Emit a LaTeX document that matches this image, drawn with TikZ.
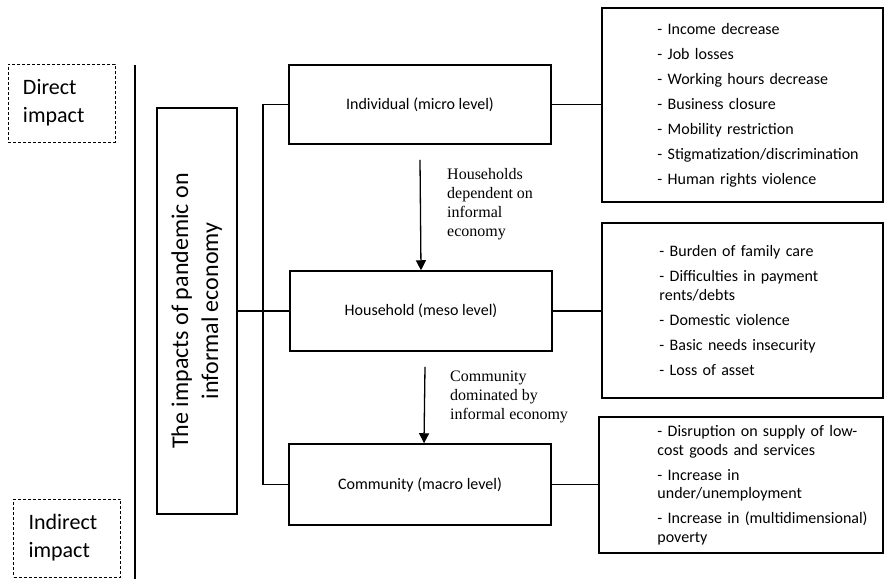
\documentclass[tikz,border=0pt]{standalone}
\usepackage{fontspec}
\setmainfont{Liberation Serif}
\setsansfont{Carlito}
\usetikzlibrary{arrows.meta,positioning}
\tikzstyle{level} = [rectangle, draw, line width=1.5pt, minimum width=262pt, minimum height=80pt, inner sep=0pt, font=\sffamily\fontsize{16}{19}\selectfont]
\tikzstyle{effects} = [rectangle, draw, line width=1.5pt, minimum width=281pt, inner sep=0pt]
\tikzstyle{items} = [anchor=west, text width=224pt, align=left, inner sep=0pt, font=\sffamily\fontsize{16}{18.5}\selectfont]
\tikzstyle{impact} = [rectangle, draw, dash pattern=on 3pt off 2pt, line width=1pt, minimum width=107pt, minimum height=78pt, text width=77pt, align=left, inner sep=0pt, font=\sffamily\fontsize{22}{28}\selectfont]
\tikzstyle{link} = [line width=1.5pt]
\tikzstyle{arrow} = [line width=1.3pt, -{Triangle[width=10pt,length=10pt]}]
\tikzstyle{note} = [anchor=west, align=left, inner sep=0pt, font=\fontsize{16}{19}\selectfont]

\begin{document}
\begin{tikzpicture}[x=1pt, y=-1pt]
\useasboundingbox (0,0) rectangle (884,579);

% Impact labels and divider
\node[impact] (direct) at (61.5,103) {Direct\\impact};
\node[impact] (indirect) at (67,538) {Indirect\\impact};
\coordinate (divtop) at (135,65);
\coordinate (divbot) at (135,579);
\draw[line width=2.4pt] (divtop) -- (divbot);

% Main topic
\node[rectangle, draw, line width=1.5pt, minimum width=80pt, minimum height=406pt, inner sep=0pt] (main) at (197,311) {\rotatebox{90}{\sffamily\fontsize{24}{30}\selectfont\begin{tabular}{@{}c@{}}The impacts of pandemic on\\informal economy\end{tabular}}};

% Levels
\node[level, minimum height=79pt] (ind) at (420,104.5) {Individual (micro level)};
\node[level] (house) at (421,311) {Household (meso level)};
\node[level, minimum height=81pt] (comm) at (420,484.5) {Community (macro level)};

% Effects
\node[effects, minimum height=194pt] (list1) at (742.5,105) {};
\node[effects, minimum height=175pt] (list2) at (742.5,310.5) {};
\node[effects, minimum width=284pt, minimum height=136pt] (list3) at (741,485) {};
\node[items] at ([xshift=56pt]list1.west) {- Income decrease\\[6.5pt]- Job losses\\[6.5pt]- Working hours decrease\\[6.5pt]- Business closure\\[6.5pt]- Mobility restriction\\[6.5pt]- Stigmatization/discrimination\\[6.5pt]- Human rights violence};
\node[items] at ([xshift=58pt]list2.west) {- Burden of family care\\[6.5pt]- Difficulties in payment\\rents/debts\\[6.5pt]- Domestic violence\\[6.5pt]- Basic needs insecurity\\[6.5pt]- Loss of asset};
\node[items] at ([xshift=59pt]list3.west) {- Disruption on supply of low-\\cost goods and services\\[6.5pt]- Increase in\\under/unemployment\\[6.5pt]- Increase in (multidimensional)\\poverty};

% Connections
\coordinate (fork) at (263,311);
\draw[link] (main.east) -- (fork) -- (house.west);
\draw[link] (ind.west) -- (ind.west -| fork) -- (comm.west -| fork) -- (comm.west);
\draw[link] (ind.east) -- (ind.east -| list1.west);
\draw[link] (house.east) -- (house.east -| list2.west);
\draw[link] (comm.east) -- (comm.east -| list3.west);

% Flow between levels
\draw[arrow] ([yshift=-15pt]ind.south) -- (house.north);
\draw[arrow] ([xshift=4pt,yshift=-15pt]house.south) -- ([xshift=4pt]comm.north);
\node[note] (dep) at (447,204) {Households\\dependent on\\informal\\economy};
\node[note] (dom) at (450,397) {Community\\dominated by\\informal economy};
\end{tikzpicture}
\end{document}
